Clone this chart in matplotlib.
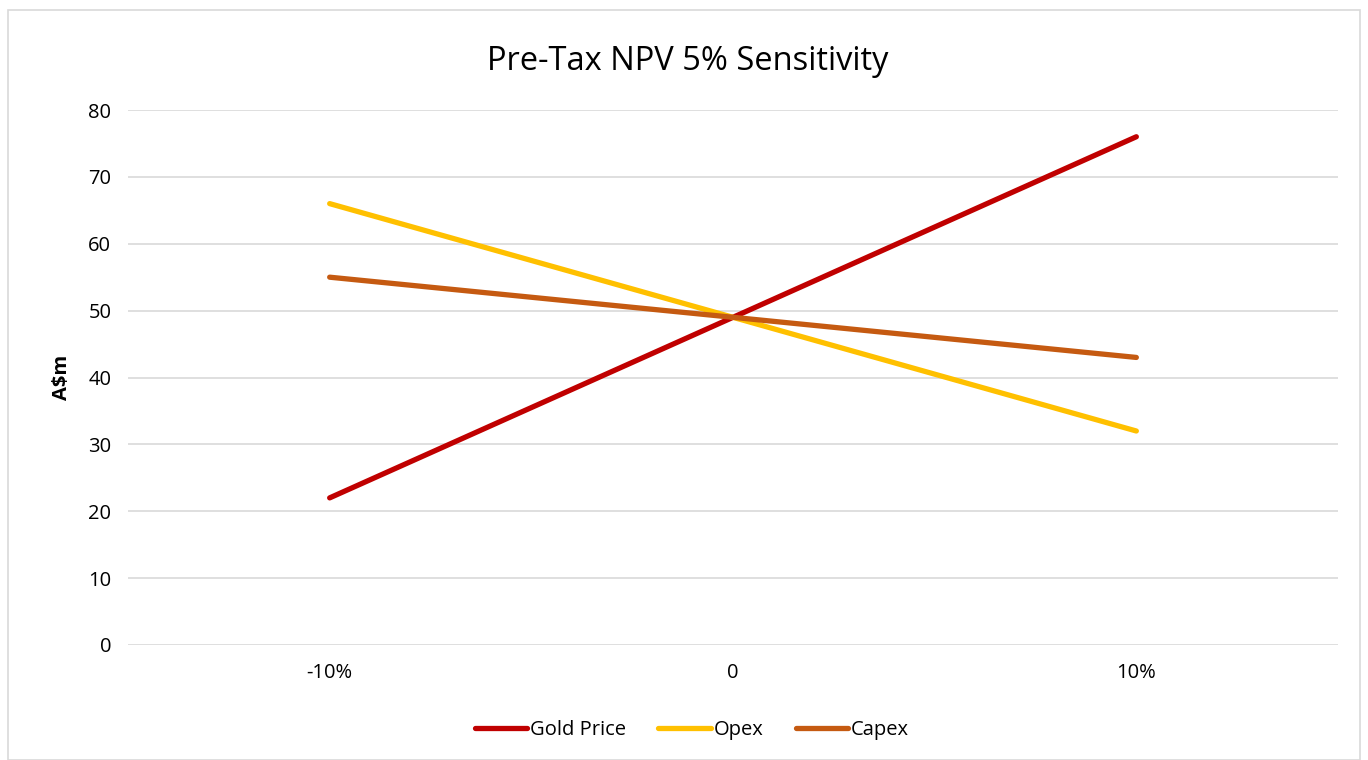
import matplotlib
matplotlib.use("Agg")
import matplotlib.pyplot as plt
from matplotlib.patches import Rectangle

categories = ["-10%", "0", "10%"]
gold_price = [22, 49, 76]
opex = [66, 49, 32]
capex = [55, 49, 43]
series_names = ["Gold Price", "Opex", "Capex"]
colors = ["#C00000", "#FFC000", "#C55A11"]
yticks = [0, 10, 20, 30, 40, 50, 60, 70, 80]

plt.rcParams['font.family'] = ['Open Sans', 'DejaVu Sans']

fig = plt.figure(figsize=(13.68, 7.6), dpi=100)
fig.patches.append(Rectangle((8/1368, 0), 1 - 16/1368, 1 - 10/760, transform=fig.transFigure,
                             fill=False, edgecolor="#D9D9D9", linewidth=1.2))
ax = fig.add_axes([128/1368, 1 - 645/760, (1338 - 128)/1368, (645 - 110)/760])

x = list(range(len(categories)))
for vals, name, c in zip([gold_price, opex, capex], series_names, colors):
    ax.plot(x, vals, color=c, linewidth=3.8, label=name, solid_capstyle='round', zorder=3)

ax.set_xlim(-0.5, len(categories) - 0.5)
ax.set_ylim(0, 80)
ax.set_yticks(yticks)
ax.set_xticks(x)
ax.set_xticklabels(categories)
ax.grid(axis='y', color="#D9D9D9", linewidth=1.2, zorder=0)
for s in ax.spines.values():
    s.set_visible(False)
ax.tick_params(axis='both', length=0, labelsize=14.5, colors="#000000", pad=12)
ax.tick_params(axis='x', pad=13)

ax.set_ylabel("A$m", fontsize=14.5, fontweight='bold', labelpad=12)
fig.text(688/1368, 1 - 61/760, "Pre-Tax NPV 5% Sensitivity", fontsize=23.5, ha='center', va='center')

leg = fig.legend(loc='center', bbox_to_anchor=(692/1368, 1 - 730/760), ncol=3, frameon=False,
                 fontsize=14.5, handlelength=2.6, handletextpad=0.15, columnspacing=1.6)

fig.savefig("out.png", dpi=100)
